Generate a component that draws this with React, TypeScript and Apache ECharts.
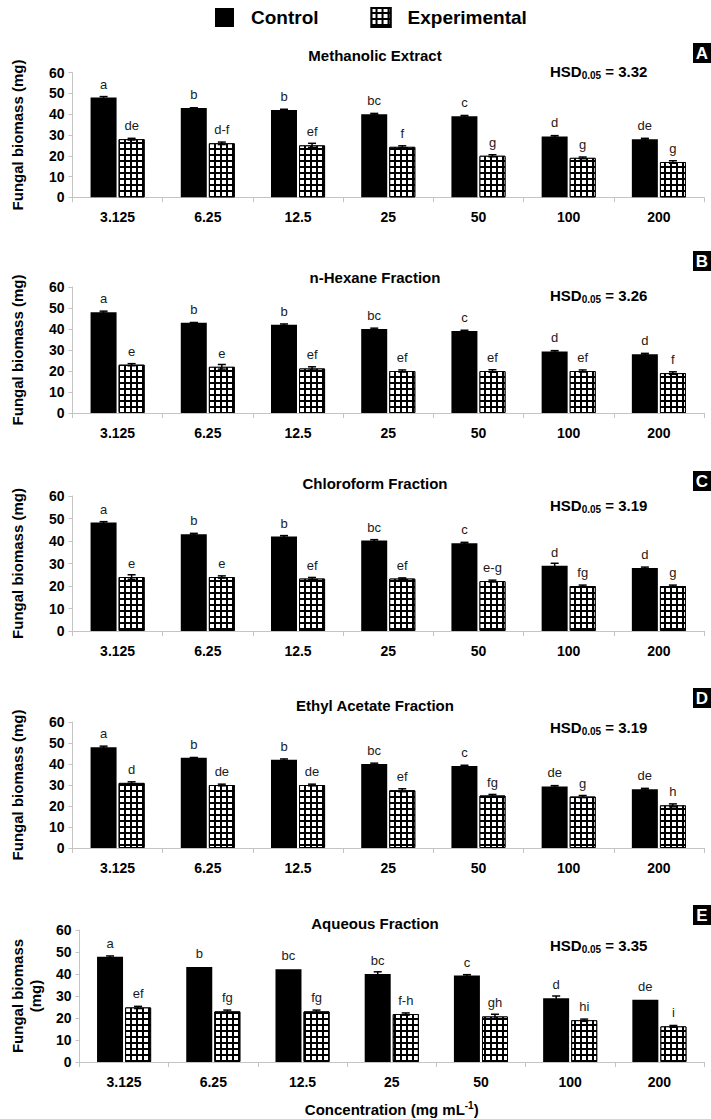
import React, { useEffect, useRef } from 'react';
import * as echarts from 'echarts';

const categories = ['3.125', '6.25', '12.5', '25', '50', '100', '200'];
const panelTitles = ['Methanolic Extract', 'n-Hexane Fraction', 'Chloroform Fraction', 'Ethyl Acetate Fraction', 'Aqueous Fraction'];
const panelLetters = ['A', 'B', 'C', 'D', 'E'];
const hsdValues = ['3.32', '3.26', '3.19', '3.19', '3.35'];

const controlA = [48, 43, 42, 40, 39, 29.3, 28];
const controlErrA = [0.5, 0.1, 0.4, 0.4, 0.4, 0.4, 0.4];
const expA = [28, 26, 25, 24.3, 20, 19, 17];
const expErrA = [0.4, 0.6, 1.0, 0.5, 0.5, 0.4, 0.6];
const ctrlLettersA = ['a', 'b', 'b', 'bc', 'c', 'd', 'de'];
const expLettersA = ['de', 'd-f', 'ef', 'f', 'g', 'g', 'g'];

const controlB = [48, 43, 42, 40, 39, 29.3, 28];
const controlErrB = [0.5, 0.1, 0.4, 0.4, 0.4, 0.4, 0.4];
const expB = [23, 22, 21.2, 20, 20, 20, 19];
const expErrB = [0.5, 1.1, 0.8, 0.5, 0.6, 0.5, 0.6];
const ctrlLettersB = ['a', 'b', 'b', 'bc', 'c', 'd', 'd'];
const expLettersB = ['e', 'e', 'ef', 'ef', 'ef', 'ef', 'f'];

const controlC = [48.2, 43, 42, 40.2, 39, 29, 28];
const controlErrC = [0.4, 0.4, 0.4, 0.4, 0.4, 1.1, 0.4];
const expC = [24, 24, 23.3, 23.3, 22.2, 20, 20];
const expErrC = [1.0, 0.5, 0.5, 0.3, 0.4, 0.4, 0.4];
const ctrlLettersC = ['a', 'b', 'b', 'bc', 'c', 'd', 'd'];
const expLettersC = ['e', 'e', 'ef', 'ef', 'e-g', 'fg', 'g'];

const controlD = [48, 43, 42, 40, 39, 29.3, 28];
const controlErrD = [0.5, 0.1, 0.4, 0.4, 0.4, 0.4, 0.4];
const expD = [31, 30, 30, 27.5, 25, 24.5, 20.3];
const expErrD = [0.5, 0.4, 0.4, 0.7, 0.5, 0.5, 0.7];
const ctrlLettersD = ['a', 'b', 'b', 'bc', 'c', 'de', 'de'];
const expLettersD = ['d', 'de', 'de', 'ef', 'fg', 'g', 'h'];

const controlE = [47.8, 43.2, 42.2, 40, 39.3, 29, 28.3];
const controlErrE = [0.4, 0, 0, 1.0, 0.4, 1.0, 0];
const expE = [24.8, 23, 23, 21.8, 20.7, 19, 16.2];
const expErrE = [0.5, 0.6, 0.6, 0.5, 1.0, 0.5, 0.4];
const ctrlLettersE = ['a', 'b', 'bc', 'bc', 'c', 'd', 'de'];
const expLettersE = ['ef', 'fg', 'fg', 'f-h', 'gh', 'hi', 'i'];

const panels = [
  { ctrl: controlA, ctrlErr: controlErrA, exp: expA, expErr: expErrA, cl: ctrlLettersA, el: expLettersA },
  { ctrl: controlB, ctrlErr: controlErrB, exp: expB, expErr: expErrB, cl: ctrlLettersB, el: expLettersB },
  { ctrl: controlC, ctrlErr: controlErrC, exp: expC, expErr: expErrC, cl: ctrlLettersC, el: expLettersC },
  { ctrl: controlD, ctrlErr: controlErrD, exp: expD, expErr: expErrD, cl: ctrlLettersD, el: expLettersD },
  { ctrl: controlE, ctrlErr: controlErrE, exp: expE, expErr: expErrE, cl: ctrlLettersE, el: expLettersE },
];

// layout (pixels)
const gridTops = [72.7, 287, 496, 722, 930];
const gridBottoms = [197.3, 413, 631, 848, 1062];
const titleYs = [55, 277, 483, 705, 923];
const hsdYs = [71, 295, 505, 727, 945];
const boxYs = [43, 251, 471, 688, 905];

const FONT = "'Liberation Sans', Arial, Helvetica, sans-serif";
const BAR_W = 26;
const OFFSET = 14;

const decal = {
  symbol: 'rect',
  symbolSize: 1,
  color: '#fff',
  dashArrayX: [3.7, 1.4],
  dashArrayY: [3.7, 1.4],
  rotation: 0,
};

function errRender(offset: number) {
  return (params: any, api: any) => {
    const x = api.value(0);
    const v = api.value(1);
    const e = api.value(2);
    if (!e) return { type: 'group', children: [] };
    const hi = api.coord([x, v + e]);
    const lo = api.coord([x, v - e]);
    const cx = hi[0] + offset;
    const st = { stroke: '#000', lineWidth: 1.5 };
    return {
      type: 'group',
      children: [
        { type: 'line', shape: { x1: cx, y1: hi[1], x2: cx, y2: lo[1] }, style: st },
        { type: 'line', shape: { x1: cx - 4, y1: hi[1], x2: cx + 4, y2: hi[1] }, style: st },
        { type: 'line', shape: { x1: cx - 4, y1: lo[1], x2: cx + 4, y2: lo[1] }, style: st },
      ],
    };
  };
}

export default function App() {
  const ref = useRef<HTMLDivElement>(null);
  useEffect(() => {
    document.body.style.margin = '0';
    const chart = echarts.init(ref.current!, undefined, { renderer: 'svg' });

    const grid: any[] = [];
    const xAxis: any[] = [];
    const yAxis: any[] = [];
    const series: any[] = [];
    const graphic: any[] = [];

    panels.forEach((p, i) => {
      const isLast = i === panels.length - 1;
      grid.push({ left: 63, width: 641, top: gridTops[i], height: gridBottoms[i] - gridTops[i] });
      xAxis.push({
        type: 'category',
        gridIndex: i,
        data: categories,
        axisLine: { lineStyle: { color: '#c4c4c4', width: 1 } },
        axisTick: { show: true, length: 5, lineStyle: { color: '#c4c4c4' } },
        axisLabel: { fontFamily: FONT, fontWeight: 'bold', fontSize: 14, color: '#000', margin: 13 },
        name: isLast ? '{a|Concentration (mg mL}{s|-1}{a|)}' : '',
        nameLocation: 'middle',
        nameGap: 38,
        nameTextStyle: {
          rich: {
            a: { fontFamily: FONT, fontWeight: 'bold', fontSize: 15, color: '#000', lineHeight: 18 },
            s: { fontFamily: FONT, fontWeight: 'bold', fontSize: 10, color: '#000', lineHeight: 10, verticalAlign: 'top' },
          },
        },
      });
      yAxis.push({
        type: 'value',
        gridIndex: i,
        min: 0,
        max: 60,
        interval: 10,
        splitLine: { show: false },
        axisLine: { show: true, lineStyle: { color: '#c4c4c4', width: 1 } },
        axisTick: { show: true, length: 4, lineStyle: { color: '#c4c4c4' } },
        axisLabel: { fontFamily: FONT, fontWeight: 'bold', fontSize: 14, color: '#000', margin: 8 },
        name: isLast ? 'Fungal biomass\n(mg)' : 'Fungal biomass (mg)',
        nameLocation: 'middle',
        nameRotate: 90,
        nameGap: isLast ? 28 : 46,
        nameTextStyle: { fontFamily: FONT, fontWeight: 'bold', fontSize: 15, color: '#000', lineHeight: 18.5 },
      });
      const labelBase = {
        show: true,
        position: 'top',
        distance: 7,
        fontFamily: FONT,
        fontSize: 13,
        color: '#1a1a1a',
      };
      series.push({
        name: 'Control',
        type: 'bar',
        xAxisIndex: i,
        yAxisIndex: i,
        data: p.ctrl,
        barWidth: BAR_W,
        barGap: '8%',
        itemStyle: { color: '#000', borderColor: '#000', borderWidth: 0 },
        label: { ...labelBase, formatter: (q: any) => p.cl[q.dataIndex] },
      });
      series.push({
        name: 'Experimental',
        type: 'bar',
        xAxisIndex: i,
        yAxisIndex: i,
        data: p.exp,
        barWidth: BAR_W,
        barGap: '8%',
        itemStyle: { color: '#000', borderColor: '#000', borderWidth: 1, decal },
        label: { ...labelBase, formatter: (q: any) => p.el[q.dataIndex] },
      });
      series.push({
        name: 'errCtrl' + i,
        type: 'custom',
        xAxisIndex: i,
        yAxisIndex: i,
        z: 5,
        renderItem: errRender(-OFFSET),
        encode: { x: 0, y: 1 },
        data: categories.map((c, k) => [k, p.ctrl[k], p.ctrlErr[k]]),
      });
      series.push({
        name: 'errExp' + i,
        type: 'custom',
        xAxisIndex: i,
        yAxisIndex: i,
        z: 5,
        renderItem: errRender(OFFSET),
        encode: { x: 0, y: 1 },
        data: categories.map((c, k) => [k, p.exp[k], p.expErr[k]]),
      });

      graphic.push({
        type: 'text',
        x: 375,
        y: titleYs[i],
        style: {
          text: panelTitles[i],
          align: 'center',
          verticalAlign: 'middle',
          fontFamily: FONT,
          fontWeight: 'bold',
          fontSize: 15,
          fill: '#000',
        },
      });
      graphic.push({
        type: 'text',
        x: 550,
        y: hsdYs[i],
        style: {
          text: '{b|HSD}{s|0.05}{b| = ' + hsdValues[i] + '}',
          verticalAlign: 'middle',
          rich: {
            b: { fontFamily: FONT, fontWeight: 'bold', fontSize: 15, fill: '#000', lineHeight: 18 },
            s: { fontFamily: FONT, fontWeight: 'bold', fontSize: 10, fill: '#000', lineHeight: 10, verticalAlign: 'bottom' },
          },
        },
      });
      graphic.push({
        type: 'rect',
        shape: { x: 693, y: boxYs[i], width: 18, height: 20 },
        style: { fill: '#000' },
      });
      graphic.push({
        type: 'text',
        x: 702,
        y: boxYs[i] + 10,
        style: {
          text: panelLetters[i],
          align: 'center',
          verticalAlign: 'middle',
          fontFamily: FONT,
          fontWeight: 'bold',
          fontSize: 17,
          fill: '#fff',
        },
      });
    });

    chart.setOption({
      animation: false,
      backgroundColor: '#fff',
      legend: {
        data: ['Control', 'Experimental'],
        left: 210,
        top: 2,
        icon: 'rect',
        itemWidth: 19,
        itemHeight: 19,
        itemGap: 52,
        textStyle: { fontFamily: FONT, fontWeight: 'bold', fontSize: 19, color: '#000', padding: [0, 0, 0, 12] },
      },
      grid,
      xAxis,
      yAxis,
      series,
      graphic,
    });
    return () => chart.dispose();
  }, []);
  return <div ref={ref} style={{ width: 711, height: 1119 }} />;
}
